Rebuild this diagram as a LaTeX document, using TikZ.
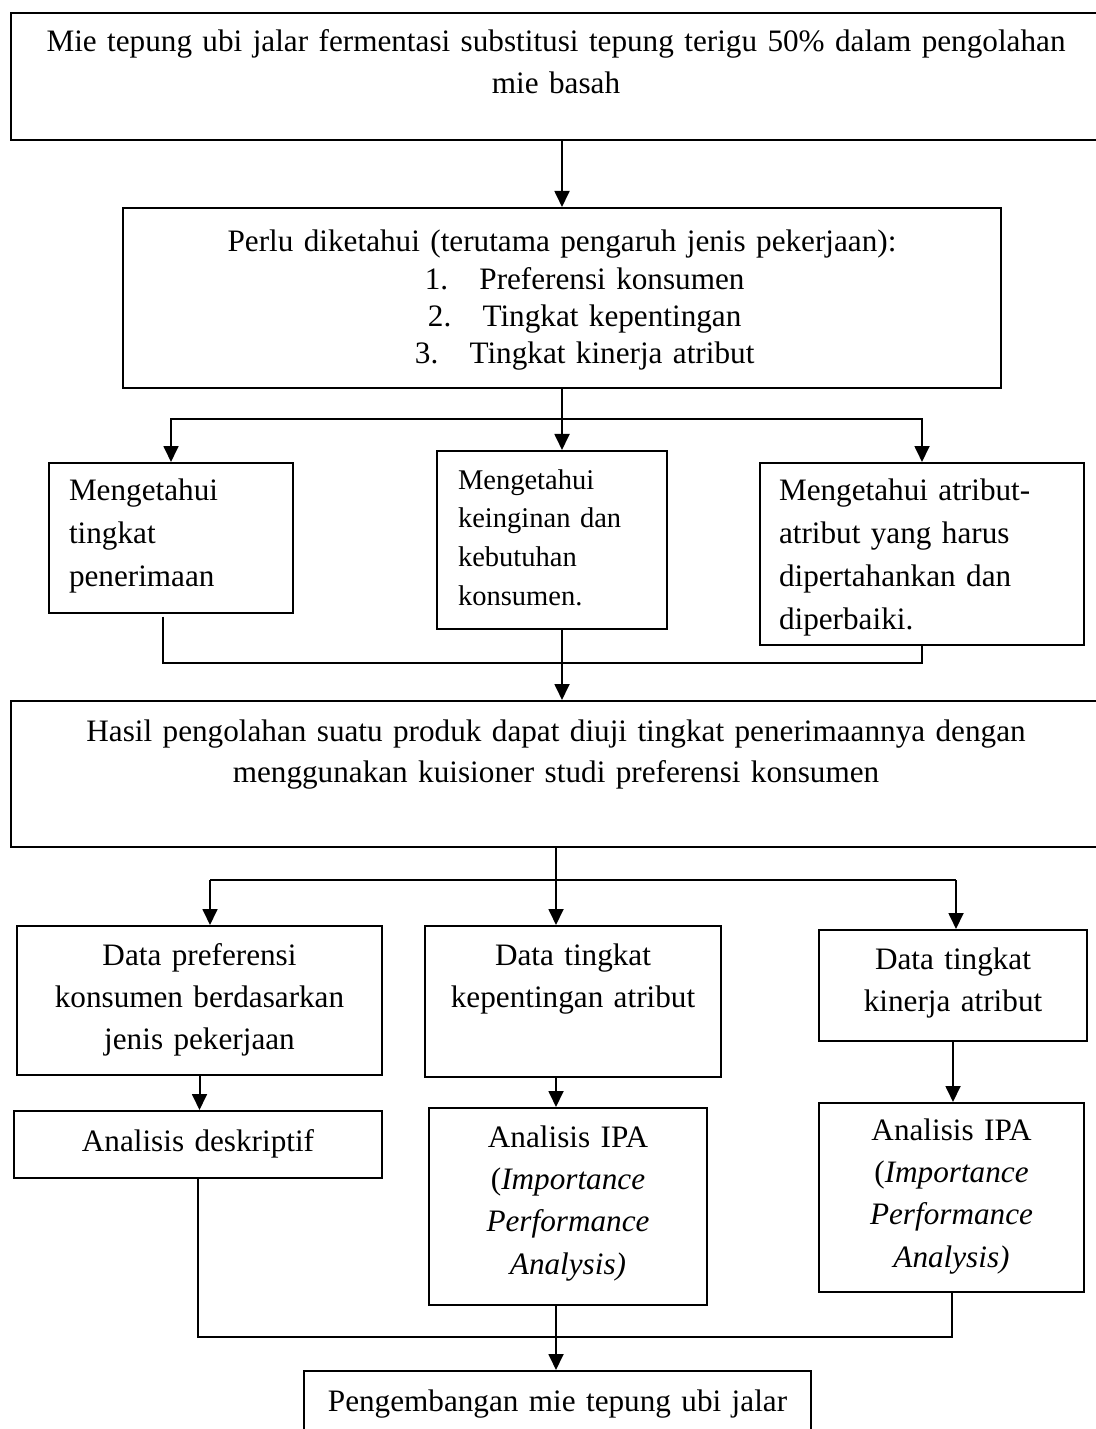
\documentclass[tikz,border=0pt]{standalone}
\usepackage{fontspec}
\setmainfont{Liberation Serif}
\usetikzlibrary{arrows.meta}
\tikzset{
LINE/.style ={draw=black,line width=0.75pt,line join=miter},
ARROW/.style ={LINE,-{Triangle[length=6pt,width=5.6pt]}},
BOX/.style={draw=black,line width=0.75pt,inner sep=0pt,anchor=north west,align=center,
  font=\fontsize{11.7pt}{15.9pt}\selectfont},
LBOX/.style={BOX,align=left,inner xsep=#1},
}

\begin{document}
\begin{tikzpicture}
[x=0.375pt, y=-0.375pt]
	\useasboundingbox (0,0) rectangle (1096,1429);
	\node[BOX,text width=408.75pt,text height=14.625pt,text depth=33pt,font=\fontsize{11.7pt}{15.75pt}\selectfont] (mie) at (10,12)
	{Mie tepung ubi jalar fermentasi substitusi tepung terigu 50\% dalam pengolahan\\mie basah};
	\node[BOX,text width=329.25pt,text height=16.5pt,text depth=51pt,font=\fontsize{11.7pt}{13.9pt}\selectfont] (perlu) at (122,207)
	{Perlu diketahui (terutama pengaruh jenis pekerjaan):\\
	\hspace*{17pt}1.\hspace{1em}Preferensi konsumen\\
	\hspace*{17pt}2.\hspace{1em}Tingkat kepentingan\\
	\hspace*{17pt}3.\hspace{1em}Tingkat kinerja atribut};
	\node[LBOX=7.5pt,text width=76.5pt,text height=14.25pt,text depth=42pt,font=\fontsize{11.7pt}{16pt}\selectfont] (terima) at (48,462)
	{Mengetahui\\tingkat\\penerimaan};
	\node[LBOX=7.875pt,text width=70.5pt,text height=14.25pt,text depth=52.5pt,font=\fontsize{10.7pt}{14.6pt}\selectfont] (ingin) at (436,450)
	{Mengetahui\\keinginan dan\\kebutuhan\\konsumen.};
	\node[LBOX=7.125pt,text width=107.25pt,text height=14.25pt,text depth=54pt,font=\fontsize{11.7pt}{16pt}\selectfont] (atribut) at (759,462)
	{Mengetahui atribut-\\atribut yang harus\\dipertahankan dan\\diperbaiki.};
	\node[BOX,text width=408.75pt,text height=15pt,text depth=39.75pt,font=\fontsize{11.7pt}{15.4pt}\selectfont] (hasil) at (10,700)
	{Hasil pengolahan suatu produk dapat diuji tingkat penerimaannya dengan\\menggunakan kuisioner studi preferensi konsumen};
	\node[BOX,text width=136.875pt,text height=14.625pt,text depth=41.25pt] (dpref) at (16,925)
	{Data preferensi\\konsumen berdasarkan\\jenis pekerjaan};
	\node[BOX,text width=111pt,text height=14.625pt,text depth=42pt] (dpent) at (424,925)
	{Data tingkat\\kepentingan atribut};
	\node[BOX,text width=100.5pt,text height=14.625pt,text depth=27pt] (dkin) at (818,929)
	{Data tingkat\\kinerja atribut};
	\node[BOX,text width=138pt,text height=15pt,text depth=10.125pt] (desk) at (13,1110)
	{Analisis deskriptif};
	\node[BOX,text width=104.25pt,text height=14.625pt,text depth=59.25pt] (ipaA) at (428,1107)
	{Analisis IPA\\(\textit{Importance}\\\textit{Performance}\\\textit{Analysis)}};
	\node[BOX,text width=99.375pt,text height=13.875pt,text depth=57pt] (ipaB) at (818,1102)
	{Analisis IPA\\(\textit{Importance}\\\textit{Performance}\\\textit{Analysis)}};
	\node[BOX,text width=190.125pt,text height=15pt,text depth=11.25pt] (kembang) at (303,1370)
	{Pengembangan mie tepung ubi jalar};

	\draw[ARROW] (perlu.north |- mie.south) -- (perlu.north);
	\coordinate (split1) at (perlu.south |- 0,419);
	\draw[LINE] (perlu.south) -- (split1);
	\draw[ARROW] (split1) -| (terima.north);
	\draw[ARROW] (split1) -| (atribut.north);
	\draw[ARROW] (split1) -- (split1 |- ingin.north);
	\coordinate (merge1) at (split1 |- 0,663);
	\draw[LINE] ([xshift=-3pt,yshift=-1pt]terima.south) |- (merge1) -| (atribut.south);
	\draw[ARROW] (split1 |- ingin.south) -- (split1 |- hasil.north);
	\coordinate (split2) at (hasil.south |- 0,880);
	\coordinate (splitL) at (210,880);
	\coordinate (splitR) at (956,880);
	\draw[LINE] (hasil.south) -- (split2);
	\draw[LINE] (splitL) -- (splitR);
	\draw[ARROW] (splitL) -- (splitL |- dpref.north);
	\draw[ARROW] (split2) -- (split2 |- dpent.north);
	\draw[ARROW] (splitR) -- (splitR |- dkin.north);
	\draw[ARROW] (dpref.south) -- (dpref.south |- desk.north);
	\draw[ARROW] (split2 |- dpent.south) -- (split2 |- ipaA.north);
	\draw[ARROW] (dkin.south) -- (dkin.south |- ipaB.north);
	\coordinate (merge2) at (split2 |- 0,1337);
	\draw[LINE] (desk.south) |- (merge2) -| (ipaB.south);
	\draw[ARROW] (split2 |- ipaA.south) -- (split2 |- kembang.north);
\end{tikzpicture}
\end{document}
